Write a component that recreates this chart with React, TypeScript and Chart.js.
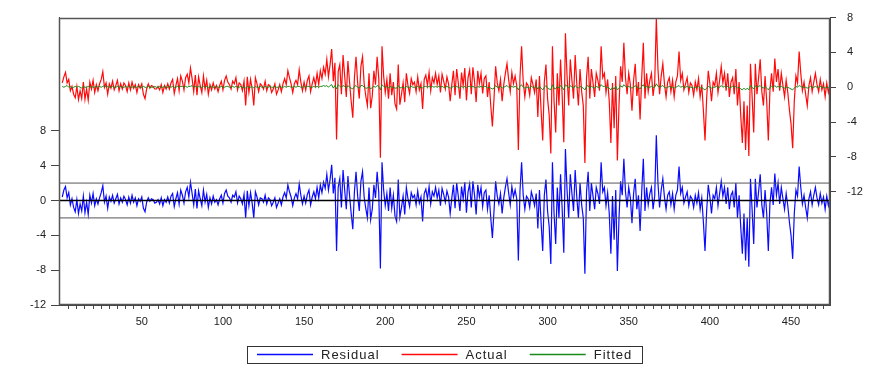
import React, { useEffect, useRef } from "react";
import { Chart, registerables } from "chart.js";

Chart.register(...registerables);

// Residual series (obs 1..474) (left axis)
const RESIDUAL: number[] = [
  0.4, 1.2, 1.6, 0.3, 0.9, -0.5, 0.2, -0.8, -1.3, 0.1,
  -1.5, -0.4, -1.2, 0.5, -1.4, -0.2, -1.6, 0.6, -0.3, 0.8,
  -0.6, 0.2, -0.4, 0.3, 0.9, 1.7, -0.2, 0.5, -0.9, 0.4,
  -0.1, 0.6, -0.3, 0.2, 0.7, -0.4, 0.3, -0.2, 0.5, 0.1,
  -0.5, 0.4, -0.3, 0.6, -0.2, 0.3, -0.6, 0.2, -0.1, 0.4,
  -0.9, -1.3, -0.2, 0.3, -0.1, 0.2, 0.1, -0.3, -0.2, 0.1,
  -0.4, 0.3, -0.6, 0.1, -0.2, 0.4, -0.3, 0.5, 0.8, -0.7,
  0.2, 0.9, -0.4, 1.2, 0.6, -0.3, 1.0, 1.5, 0.4, 2.1,
  0.8, -0.5, 1.3, -0.9, 1.1, 0.2, -0.6, 1.2, -0.2, 0.7,
  -0.8, 0.3, -0.4, 0.5, -0.2, 0.1, -0.5, 0.2, 0.6, -0.3,
  0.8, 1.2, 0.5, 0.3, -0.2, 0.6, 0.4, 1.0, -0.3, 0.5,
  0.2, -0.4, 0.7, -2.0, 1.1, -0.6, 0.9, -0.3, -2.0, 1.0,
  0.4, -0.5, 0.3, 0.2, -0.2, 0.6, -0.4, 0.3, 0.1, -0.6,
  -0.2, 0.3, -0.8, -0.3, 0.2, -0.5, 0.4, 0.9, 0.3, 1.8,
  1.0, 0.4, -0.6, 0.3, 0.8, 0.2, 1.9, 0.6, -0.4, 0.5,
  -0.3, 0.7, 1.2, -0.5, 0.4, 1.0, 0.2, 1.5, 0.3, 1.8,
  0.9, 2.1, 1.4, 3.0, 1.2, 2.4, 4.1, 0.8, 2.6, -5.8,
  1.5, 2.5, -0.8, 3.5, 1.2, -1.0, 2.8, 0.6, -1.5, -3.3,
  1.0, 3.3, 0.5, -1.2, 2.2, 3.3, 0.4, -0.9, -2.0, 1.5,
  -2.2, -1.0, 1.8, 0.3, 3.3, 0.9, -7.8, 4.4, 1.2, -0.6,
  0.8, -1.2, 1.5, -0.9, 0.6, -1.8, -2.4, 2.4, -1.9, -0.8,
  0.5, -1.6, 1.5, 0.2, -0.7, 0.9, 0.3, 0.6, -0.5, 1.1,
  -0.3, 0.4, -2.4, 0.8, 1.3, 0.2, 1.6, -0.4, 1.0, 0.5,
  1.5, 0.3, 1.2, -0.6, 1.4, 0.7, -0.2, 1.1, 0.4, -1.5,
  0.3, 1.8, -0.9, 2.0, 0.5, -1.2, 1.6, 0.2, 2.1, -1.4,
  1.0, 1.9, -0.8, 2.2, 0.6, -1.6, 1.8, 0.4, 1.5, -0.7,
  0.9, 1.2, -1.0, 0.6, -2.0, -4.3, -1.2, 2.2, 0.5, -0.4,
  0.8, -1.5, 0.3, 1.5, 2.5, 0.9, -0.5, 1.6, 0.4, 1.2,
  0.2, -6.9, 1.1, 4.4, 0.6, -1.0, 0.5, 0.2, -0.8, 1.0,
  0.3, -0.6, 0.8, -3.2, 1.2, -2.5, -5.8, 0.6, 2.4, -1.2,
  -3.0, -7.3, 4.4, -1.5, -5.0, 1.5, -2.0, 3.0, -1.0, -6.0,
  5.9, 1.2, -2.0, 3.0, 0.8, -1.2, 3.5, 0.4, -2.0, 2.0,
  -0.5, -2.0, -8.4, 1.0, 3.3, -1.2, 2.0, 0.5, -1.0, 1.5,
  0.8, -0.4, 4.4, 1.0, 1.5, -0.6, 0.9, -1.5, -6.1, 0.5,
  -4.5, 1.2, -8.1, -2.0, 2.2, 0.6, 4.8, 1.0, -0.8, 1.5,
  0.3, -2.6, 0.8, 2.5, -1.0, 0.6, -3.5, 1.0, 4.8, -1.2,
  1.5, -0.5, 0.8, 1.5, -1.0, 0.5, 7.5, 2.0, -0.8, 1.2,
  2.5, 0.4, -1.0, 0.6, 1.0, -0.5, 0.8, -1.0, 0.6, 1.2,
  3.9, 0.8, 1.5, -0.3, 0.4, 1.0, -0.6, 0.5, 0.2, -0.8,
  0.6, -0.3, 0.9, -1.0, 0.3, -2.5, -5.8, -1.2, 1.8, 0.4,
  -1.5, 0.6, 0.2, 1.5, -0.6, 0.8, 2.2, 0.5, 1.5, -0.4,
  1.5, -1.0, 0.6, 1.0, -0.8, 2.0, -2.0, 0.6, -3.0, -6.1,
  -1.5, -6.9, -2.0, -7.6, 2.5, -1.0, -5.0, 2.5, -0.8, 1.0,
  3.0, -0.5, -2.0, 1.2, -1.5, -5.8, -0.3, 1.5, -0.5, 3.1,
  0.6, 2.0, -0.4, 1.5, 0.2, -1.0, 0.8, -0.6, -2.5, -4.0,
  -6.7, -1.5, 1.2, 0.5, 3.9, 1.5, -0.4, 0.6, -0.8, -2.0,
  0.2, 1.0, -0.5, 0.6, 1.5, 0.3, -0.5, 0.8, -0.3, 0.4,
  -1.0, 0.5, -0.6, 0.3,
];

// Fitted series (obs 1..474), right axis
const FITTED: number[] = [
  0.1, 0.0, 0.1, 0.2, 0.0, 0.1, -0.1, 0.0, 0.1, 0.0, 0.1, 0.0, -0.1, 0.1, 0.0, 0.0, 0.1, 0.0, 0.1, 0.0,
  0.0, 0.1, 0.0, 0.1, 0.0, 0.1, 0.2, 0.0, 0.1, 0.0, 0.0, 0.1, 0.0, 0.0, 0.1, 0.0, 0.1, 0.0, 0.0, 0.1,
  0.0, 0.1, 0.0, 0.0, 0.1, 0.0, 0.0, 0.1, 0.0, 0.0, 0.1, 0.0, 0.0, 0.1, 0.0, 0.0, 0.0, 0.1, 0.0, 0.0,
  0.1, 0.0, 0.0, 0.1, 0.0, 0.0, 0.1, 0.0, 0.1, 0.0, 0.0, 0.1, 0.0, 0.1, 0.1, 0.0, 0.1, 0.0, 0.1, 0.1,
  0.2, 0.0, 0.1, 0.0, 0.1, 0.0, 0.0, 0.1, 0.0, 0.1, 0.0, 0.0, 0.1, 0.0, 0.0, 0.1, 0.0, 0.0, 0.1, 0.0,
  0.0, 0.1, 0.1, 0.0, 0.0, 0.1, 0.0, 0.1, 0.0, 0.0, 0.1, 0.0, 0.0, -0.1, 0.1, 0.0, 0.0, 0.1, -0.1, 0.1,
  0.0, 0.0, 0.1, 0.0, 0.0, 0.1, 0.0, 0.0, 0.1, 0.0, 0.0, 0.1, 0.0, 0.0, 0.1, 0.0, 0.0, 0.1, 0.0, 0.1,
  0.1, 0.0, 0.0, 0.1, 0.0, 0.1, 0.1, 0.0, 0.0, 0.1, 0.0, 0.1, 0.1, 0.0, 0.0, 0.1, 0.0, 0.1, 0.0, 0.1,
  0.1, 0.2, 0.1, 0.2, 0.0, 0.2, 0.3, -0.1, 0.2, -0.2, 0.3, 0.1, 0.0, 0.2, 0.1, -0.1, 0.2, 0.0, -0.1, -0.2,
  0.1, 0.2, 0.0, -0.1, 0.2, 0.2, 0.0, -0.1, -0.1, 0.1, -0.2, 0.0, 0.1, 0.0, 0.2, 0.1, -0.3, 0.3, 0.1, 0.0,
  0.1, -0.1, 0.1, 0.0, 0.0, -0.1, -0.1, 0.2, -0.1, 0.0, 0.0, -0.1, 0.1, 0.0, 0.0, 0.1, 0.0, 0.0, 0.0, 0.1,
  0.0, 0.0, -0.1, 0.1, 0.1, 0.0, 0.1, 0.0, 0.1, 0.0, 0.1, 0.0, 0.1, 0.0, 0.1, 0.0, 0.0, 0.1, 0.0, -0.1,
  0.0, 0.1, 0.0, 0.1, 0.0, -0.1, 0.1, 0.0, 0.1, -0.1, 0.1, 0.1, 0.0, 0.1, 0.0, -0.1, 0.1, 0.0, 0.1, 0.0,
  0.1, 0.1, -0.1, 0.0, -0.1, -0.2, -0.1, 0.2, 0.0, 0.0, 0.1, -0.1, 0.0, 0.1, 0.2, 0.0, 0.0, 0.1, 0.0, 0.1,
  0.0, -0.3, 0.1, 0.3, 0.0, -0.1, 0.0, 0.0, -0.1, 0.1, 0.0, 0.0, 0.1, -0.2, 0.1, -0.1, -0.3, 0.0, 0.2, -0.1,
  -0.2, -0.3, 0.3, -0.1, -0.2, 0.1, -0.1, 0.2, 0.0, -0.3, 0.3, 0.1, -0.1, 0.2, 0.0, -0.1, 0.2, 0.0, -0.1, 0.1,
  0.0, -0.1, -0.3, 0.1, 0.2, -0.1, 0.1, 0.0, -0.1, 0.1, 0.0, 0.0, 0.3, 0.1, 0.1, 0.0, 0.0, -0.1, -0.3, 0.0,
  -0.2, 0.1, -0.3, -0.1, 0.2, 0.0, 0.3, 0.1, 0.0, 0.1, 0.0, -0.1, 0.0, 0.2, 0.0, 0.0, -0.2, 0.1, 0.3, -0.1,
  0.1, 0.0, 0.0, 0.1, 0.0, 0.0, 0.4, 0.1, 0.0, 0.1, 0.2, 0.0, -0.1, 0.0, 0.1, 0.0, 0.0, -0.1, 0.0, 0.1,
  0.2, 0.0, 0.1, 0.0, 0.0, 0.1, 0.0, 0.0, 0.0, -0.1, 0.0, 0.0, 0.1, -0.1, 0.0, -0.2, -0.3, -0.1, 0.1, 0.0,
  -0.1, 0.0, 0.0, 0.1, 0.0, 0.0, 0.2, 0.0, 0.1, 0.0, 0.1, -0.1, 0.0, 0.1, 0.0, 0.1, -0.1, 0.0, -0.2, -0.3,
  -0.1, -0.3, -0.1, -0.3, 0.2, 0.0, -0.2, 0.2, 0.0, 0.1, 0.2, 0.0, -0.1, 0.1, -0.1, -0.3, 0.0, 0.1, 0.0, 0.2,
  0.0, 0.1, 0.0, 0.1, 0.0, -0.1, 0.0, 0.0, -0.1, -0.2, -0.3, -0.1, 0.1, 0.0, 0.2, 0.1, 0.0, 0.0, 0.0, -0.1,
  0.0, 0.1, 0.0, 0.0, 0.1, 0.0, 0.0, 0.1, 0.0, 0.0, -0.1, 0.0, 0.0, 0.0,
];

// Standard error band of the regression (drawn at +/- SE in residual panel)
const SE = 2.0;

const X_MIN = -1;
const X_MAX = 474;
const X_LABELS = [50, 100, 150, 200, 250, 300, 350, 400, 450];
const X_MINOR_STEP = 5;
const LEFT_TICKS = [-12, -8, -4, 0, 4, 8];
const RIGHT_TICKS = [-12, -8, -4, 0, 4, 8];
const LEFT_MIN = -12;
const LEFT_MAX = 21;
const RIGHT_MIN = -25;
const RIGHT_MAX = 8;

const SERIES_NAMES = ["Residual", "Actual", "Fitted"];
const SERIES_COLORS = ["#0a0aff", "#ff0a0a", "#1a8a1a"];

const FONT_FAMILY = "'Liberation Sans', Arial, sans-serif";

export default function App() {
  const canvasRef = useRef<HTMLCanvasElement | null>(null);

  useEffect(() => {
    const canvas = canvasRef.current;
    if (!canvas) return;

    const residualPts = RESIDUAL.map((v, i) => ({ x: i + 1, y: v }));
    const fittedPts = FITTED.map((v, i) => ({ x: i + 1, y: v }));
    const actualPts = RESIDUAL.map((v, i) => ({ x: i + 1, y: Math.round((v + FITTED[i]) * 100) / 100 }));

    const minorTicks: number[] = [];
    for (let v = X_MINOR_STEP; v <= X_MAX; v += X_MINOR_STEP) minorTicks.push(v);

    const framePlugin = {
      id: "frame",
      afterDraw(chart: any) {
        const { ctx, chartArea } = chart;
        const { left, top, right, bottom } = chartArea;
        ctx.save();
        ctx.strokeStyle = "#555";
        ctx.lineWidth = 1.5;
        ctx.strokeRect(Math.round(left) + 0.5, Math.round(top) + 0.5, Math.round(right - left) - 1, Math.round(bottom - top) - 1);
        ctx.restore();
      },
    };

    const legendPlugin = {
      id: "boxLegend",
      afterDraw(chart: any) {
        const { ctx, chartArea } = chart;
        ctx.save();
        ctx.font = `13px ${FONT_FAMILY}`;
        try {
          (ctx as any).letterSpacing = "1px";
        } catch (e) {}
        const lineLen = 56;
        const gapLineText = 8;
        const gapItems = 22;
        const padX = 10;
        const widths = SERIES_NAMES.map((n) => ctx.measureText(n).width);
        let total = padX * 2;
        widths.forEach((w, i) => {
          total += lineLen + gapLineText + w;
          if (i < widths.length - 1) total += gapItems;
        });
        const cx = (chartArea.left + chartArea.right) / 2;
        const y = 354;
        const boxH = 17;
        let x = Math.round(cx - total / 2);
        ctx.strokeStyle = "#333";
        ctx.lineWidth = 1;
        ctx.strokeRect(x + 0.5, Math.round(y - boxH / 2) + 0.5, Math.round(total), boxH);
        x += padX;
        ctx.textBaseline = "middle";
        SERIES_NAMES.forEach((name, i) => {
          ctx.strokeStyle = SERIES_COLORS[i];
          ctx.lineWidth = 1.3;
          ctx.beginPath();
          ctx.moveTo(x, y + 0.5);
          ctx.lineTo(x + lineLen, y + 0.5);
          ctx.stroke();
          x += lineLen + gapLineText;
          ctx.fillStyle = "#222";
          ctx.fillText(name, x, y + 1);
          x += widths[i] + gapItems;
        });
        ctx.restore();
      },
    };

    const tickFont = { family: FONT_FAMILY, size: 11 };

    const chart = new Chart(canvas, {
      type: "line",
      data: {
        datasets: [
          {
            label: "zero",
            data: [{ x: X_MIN, y: 0 }, { x: X_MAX, y: 0 }],
            yAxisID: "yL",
            borderColor: "#000",
            borderWidth: 1.3,
            pointRadius: 0,
            order: 0,
          },
          {
            label: "+SE",
            data: [{ x: X_MIN, y: SE }, { x: X_MAX, y: SE }],
            yAxisID: "yL",
            borderColor: "#555",
            borderWidth: 1,
            pointRadius: 0,
            order: 0,
          },
          {
            label: "-SE",
            data: [{ x: X_MIN, y: -SE }, { x: X_MAX, y: -SE }],
            yAxisID: "yL",
            borderColor: "#555",
            borderWidth: 1,
            pointRadius: 0,
            order: 0,
          },
          {
            label: SERIES_NAMES[2],
            data: fittedPts,
            yAxisID: "yR",
            borderColor: SERIES_COLORS[2],
            borderWidth: 1,
            pointRadius: 0,
            order: 1,
          },
          {
            label: SERIES_NAMES[1],
            data: actualPts,
            yAxisID: "yR",
            borderColor: SERIES_COLORS[1],
            borderWidth: 1.2,
            pointRadius: 0,
            order: 2,
          },
          {
            label: SERIES_NAMES[0],
            data: residualPts,
            yAxisID: "yL",
            borderColor: SERIES_COLORS[0],
            borderWidth: 1.2,
            pointRadius: 0,
            order: 3,
          },
        ],
      },
      options: {
        responsive: false,
        maintainAspectRatio: false,
        animation: false,
        devicePixelRatio: 1,
        layout: { padding: { top: 15, left: 0, right: 0, bottom: 0 } },
        plugins: {
          legend: { display: false },
          tooltip: { enabled: false },
        },
        elements: { line: { tension: 0 } },
        scales: {
          x: {
            type: "linear",
            position: "bottom",
            min: X_MIN,
            max: X_MAX,
            afterBuildTicks: (scale: any) => {
              scale.ticks = minorTicks.map((v) => ({ value: v }));
            },
            afterFit: (scale: any) => {
              scale.height = 63;
            },
            ticks: {
              autoSkip: false,
              maxRotation: 0,
              minRotation: 0,
              padding: 6,
              color: "#222",
              font: tickFont,
              callback: (v: any) => (X_LABELS.includes(Number(v)) ? String(v) : ""),
            },
            grid: {
              drawOnChartArea: false,
              drawTicks: true,
              tickLength: 4,
              color: "#444",
            },
            border: { display: true, color: "#444" },
          },
          yL: {
            type: "linear",
            position: "left",
            min: LEFT_MIN,
            max: LEFT_MAX,
            afterBuildTicks: (scale: any) => {
              scale.ticks = LEFT_TICKS.map((v) => ({ value: v }));
            },
            afterFit: (scale: any) => {
              scale.width = 59;
            },
            ticks: { padding: 5, color: "#222", font: tickFont },
            grid: { drawOnChartArea: false, drawTicks: true, tickLength: 8, color: "#444" },
            border: { display: true, color: "#444" },
          },
          yR: {
            type: "linear",
            position: "right",
            min: RIGHT_MIN,
            max: RIGHT_MAX,
            afterBuildTicks: (scale: any) => {
              scale.ticks = RIGHT_TICKS.map((v) => ({ value: v }));
            },
            afterFit: (scale: any) => {
              scale.width = 39;
            },
            ticks: { padding: 11, color: "#222", font: tickFont },
            grid: { drawOnChartArea: false, drawTicks: true, tickLength: 6, color: "#444" },
            border: { display: true, color: "#444" },
          },
        },
      },
      plugins: [framePlugin, legendPlugin],
    } as any);

    return () => {
      chart.destroy();
    };
  }, []);

  return (
    <div style={{ position: "fixed", left: 0, top: 0, width: 869, height: 368, background: "#fff" }}>
      <canvas ref={canvasRef} width={869} height={368} style={{ display: "block", width: 869, height: 368 }} />
    </div>
  );
}
